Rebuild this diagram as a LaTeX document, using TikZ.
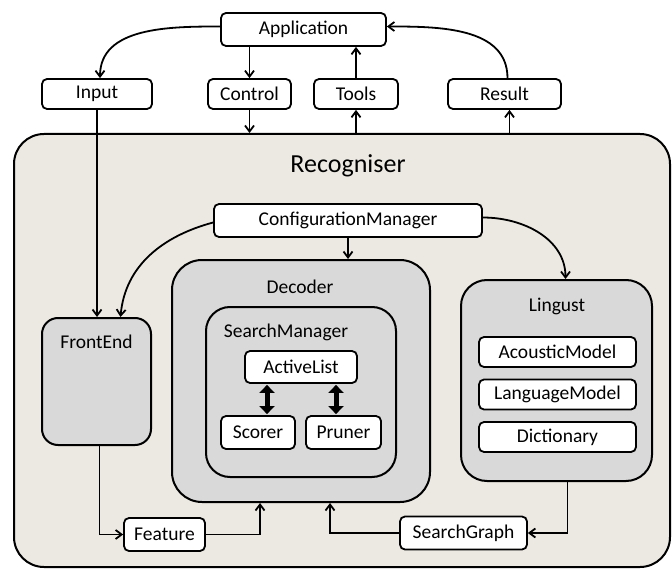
\documentclass[tikz,border=0pt]{standalone}
\usepackage{fontspec}
\setmainfont{Carlito}
\usetikzlibrary{arrows.meta,calc}
\definecolor{beige}{HTML}{ECE9E2}
\definecolor{boxgray}{HTML}{D9D9D9}
\begin{document}
\begin{tikzpicture}[x=1pt,y=-1pt,
  every node/.style={font=\fontsize{19.5}{23}\selectfont},
  wbox/.style={draw,line width=1.8pt,rounded corners=5pt,fill=white,inner sep=0pt},
  cont/.style={draw,line width=2pt,fill=boxgray,inner sep=0pt},
  ttl/.style={inner sep=0pt},
  arr/.style={line width=1.8pt,-{Straight Barb[length=6pt,width=9pt]}},
  dbl/.style={line width=5pt,{Triangle[length=8pt,width=15pt]}-{Triangle[length=8pt,width=15pt]},shorten <=1pt,shorten >=1pt}]
\useasboundingbox (0,0) rectangle (672,572);
% Top level
\node[wbox,minimum width=165pt,minimum height=33pt] (app) at (303.5,29.5) {Application};
\node[wbox,minimum width=110pt,minimum height=30pt] (input) at (97,94) {Input};
\node[wbox,minimum width=83pt,minimum height=30pt] (control) at (249.5,94) {Control};
\node[wbox,minimum width=84pt,minimum height=30pt] (tools) at (356,94) {Tools};
\node[wbox,minimum width=113pt,minimum height=30pt] (result) at (504.5,94) {Result};
% Recogniser
\node[draw,line width=2pt,fill=beige,rounded corners=30pt,minimum width=656pt,minimum height=433pt,inner sep=0pt] (rec) at (342,350.5) {};
\node[ttl,font=\fontsize{26}{30}\selectfont] (rectitle) at (348,166) {Recogniser};
\node[wbox,minimum width=268pt,minimum height=33pt] (cm) at (348,220.5) {ConfigurationManager};
% FrontEnd
\node[cont,rounded corners=16pt,minimum width=109pt,minimum height=127pt] (fe) at (96.5,381.5) {};
\node[ttl] (fetitle) at (96.5,342) {FrontEnd};
% Decoder
\node[cont,rounded corners=30pt,minimum width=258pt,minimum height=242pt] (dec) at (301,381) {};
\node[ttl] (dectitle) at (300,287) {Decoder};
\node[cont,rounded corners=24pt,minimum width=190pt,minimum height=170pt] (sm) at (301,392) {};
\node[ttl] (smtitle) at (286,332) {SearchManager};
\node[wbox,minimum width=112pt,minimum height=32pt] (al) at (301,367) {ActiveList};
\node[wbox,minimum width=74pt,minimum height=33pt] (scorer) at (258,432.5) {Scorer};
\node[wbox,minimum width=75pt,minimum height=33pt] (pruner) at (343.5,432.5) {Pruner};
% Lingust
\node[cont,rounded corners=26pt,minimum width=191pt,minimum height=201pt] (ling) at (556.5,380.5) {};
\node[ttl] (lingtitle) at (557,306) {Lingust};
\node[wbox,minimum width=157pt,minimum height=30pt] (am) at (557.5,352) {AcousticModel};
\node[wbox,minimum width=157pt,minimum height=30pt] (lm) at (557.5,394.5) {LanguageModel};
\node[wbox,minimum width=157pt,minimum height=30pt] (dict) at (557.5,437) {Dictionary};
% bottom
\node[wbox,minimum width=81pt,minimum height=33pt] (feat) at (164.5,534.5) {Feature};
\node[wbox,minimum width=127pt,minimum height=33pt] (sg) at (463.5,533) {SearchGraph};
% coordinates
\coordinate (feIn) at ($(fe.north)+(24,0)$);
\coordinate (lingIn) at ($(ling.north)+(9,0)$);
\coordinate (lingOut) at ($(ling.south)+(11,0)$);
\coordinate (decInA) at ($(dec.south)+(-41,0)$);
\coordinate (decInB) at ($(dec.south)+(29,0)$);
% connectors
\draw[arr] ([yshift=3pt]app.west) to[out=180,in=90] ([xshift=3pt]input.north);
\draw[arr] (app.south -| control.north) -- (control.north);
\draw[arr] (tools.north) -- (tools.north |- app.south);
\draw[arr] ([xshift=3pt]result.north) to[out=90,in=0] ([yshift=3pt]app.east);
\draw[arr] (control.south) -- (control.south |- rec.north);
\draw[arr] (tools.south |- rec.north) -- (tools.south);
\draw[arr] ([xshift=5pt]result.south |- rec.north) -- ([xshift=5pt]result.south);
\draw[arr] (input.south) -- (input.south |- fe.north);
\draw[arr] ([yshift=-2pt]cm.west) to[out=195,in=85] (feIn);
\draw[arr] (cm.south) -- (cm.south |- dec.north);
\draw[arr] ([yshift=3pt]cm.east) to[out=0,in=90] (lingIn);
\draw[arr] ([xshift=3pt]fe.south) |- (feat.west);
\draw[arr] (feat.east) -| (decInA);
\draw[arr] (sg.west) -| (decInB);
\draw[arr] (lingOut) |- (sg.east);
\draw[dbl] (al.south -| 267,0) -- (scorer.north -| 267,0);
\draw[dbl] (al.south -| 336,0) -- (pruner.north -| 336,0);
\end{tikzpicture}
\end{document}
